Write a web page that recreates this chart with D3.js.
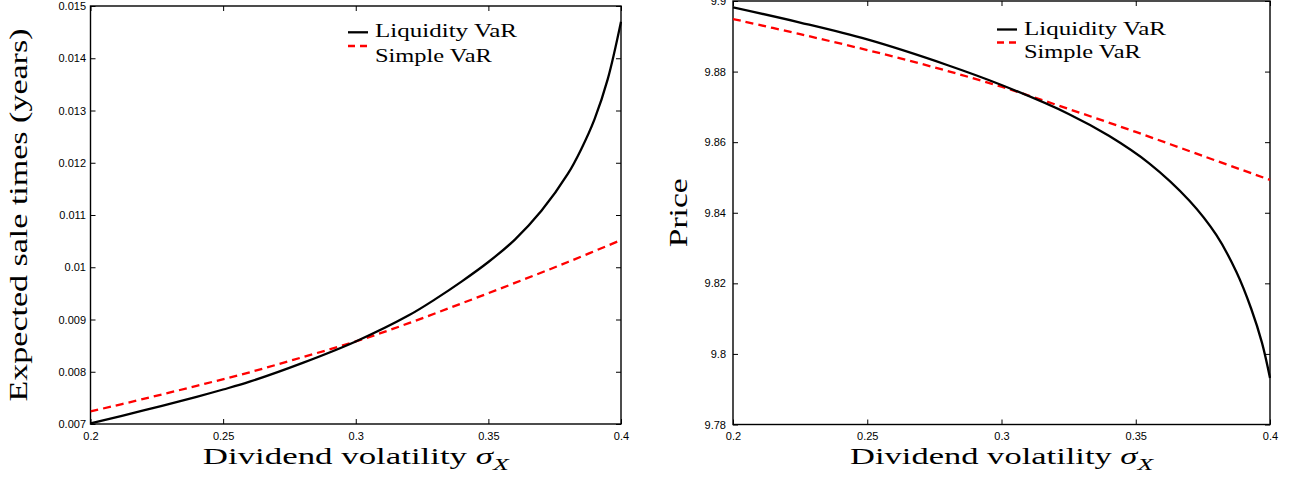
<!DOCTYPE html>
<html>
<head>
<meta charset="utf-8">
<script src="https://cdn.jsdelivr.net/npm/d3@7"></script>
<style>
  body { margin: 0; background: #fff; }
  svg { display: block; }
  .tick text { font-family: "Liberation Sans", Arial, sans-serif; font-size: 11px; fill: #000; }
  .tick line { stroke: #000; stroke-width: 1; }
  .serif { font-family: "Liberation Serif", "Times New Roman", serif; fill: #000; }
</style>
</head>
<body>
<svg id="chart"></svg>
<script>
// x values: dividend volatility
var xTicks = [0.2, 0.25, 0.3, 0.35, 0.4]
var xTickLabels = ["0.2", "0.25", "0.3", "0.35", "0.4"]

// left panel: expected sale times (years)
var timeTicks = [0.007, 0.008, 0.009, 0.010, 0.011, 0.012, 0.013, 0.014, 0.015]
var timeTickLabels = ["0.007", "0.008", "0.009", "0.01", "0.011", "0.012", "0.013", "0.014", "0.015"]

var sigmaTimeLiq = [0.20, 0.22, 0.24, 0.25, 0.26, 0.28, 0.30, 0.32, 0.33, 0.34, 0.35, 0.36, 0.37, 0.38, 0.385, 0.39, 0.395, 0.40]
var timeLiq = [0.00701, 0.00726, 0.00752, 0.00766, 0.00781, 0.00817, 0.00858, 0.00908, 0.00939, 0.00973, 0.01010, 0.01053, 0.01108, 0.01179, 0.01226, 0.01283, 0.01360, 0.01470]

var sigmaTimeSimple = [0.20, 0.22, 0.24, 0.26, 0.28, 0.30, 0.32, 0.34, 0.36, 0.38, 0.40]
var timeSimple = [0.00724, 0.00748, 0.00773, 0.00799, 0.00828, 0.00858, 0.00893, 0.00931, 0.00970, 0.01010, 0.01052]

// right panel: price
var priceTicks = [9.78, 9.80, 9.82, 9.84, 9.86, 9.88, 9.90]
var priceTickLabels = ["9.78", "9.8", "9.82", "9.84", "9.86", "9.88", "9.9"]

var sigmaPriceLiq = [0.20, 0.225, 0.25, 0.28, 0.30, 0.325, 0.34, 0.355, 0.37, 0.38, 0.3875, 0.393, 0.397, 0.40]
var priceLiq = [9.8982, 9.8939, 9.8891, 9.8818, 9.8762, 9.8680, 9.8618, 9.8540, 9.8434, 9.8337, 9.8232, 9.8128, 9.8032, 9.7932]

var sigmaPriceSimple = [0.20, 0.225, 0.25, 0.275, 0.30, 0.325, 0.35, 0.375, 0.40]
var priceSimple = [9.8949, 9.8906, 9.8861, 9.8812, 9.8757, 9.8694, 9.8629, 9.8561, 9.8493]

var legendNames = ["Liquidity VaR", "Simple VaR"]

var width = 1289
var height = 477

var svg = d3.select("#chart")
    .attr("width", width)
    .attr("height", height)

/* squeeze or stretch a text horizontally (in its own frame) to a given length */
function fitText(sel, len, pre) {
    var natural = sel.node().getComputedTextLength()
    sel.attr("transform", pre + " scale(" + (len / natural) + ",1)")
}

function panel(cfg) {
    var x = d3.scaleLinear().domain([0.2, 0.4]).range([cfg.left, cfg.right])
    var y = d3.scaleLinear().domain(cfg.yDomain).range([cfg.bottom, cfg.top])

    var g = svg.append("g")

    /* ticks, inward on all sides */
    g.append("g")
        .attr("transform", "translate(0," + cfg.bottom + ")")
        .call(d3.axisBottom(x).tickValues(xTicks).tickSize(-5).tickSizeOuter(0).tickPadding(8)
            .tickFormat((d, i) => xTickLabels[i]))
        .call(a => a.select(".domain").remove())

    g.append("g")
        .attr("transform", "translate(0," + cfg.top + ")")
        .call(d3.axisTop(x).tickValues(xTicks).tickSize(-5).tickSizeOuter(0).tickFormat(""))
        .call(a => a.select(".domain").remove())

    g.append("g")
        .attr("transform", "translate(" + cfg.left + ",0)")
        .call(d3.axisLeft(y).tickValues(cfg.yTicks).tickSize(-5).tickSizeOuter(0).tickPadding(cfg.pad)
            .tickFormat((d, i) => cfg.yLabels[i]))
        .call(a => a.select(".domain").remove())

    g.append("g")
        .attr("transform", "translate(" + cfg.right + ",0)")
        .call(d3.axisRight(y).tickValues(cfg.yTicks).tickSize(-5).tickSizeOuter(0).tickFormat(""))
        .call(a => a.select(".domain").remove())

    /* frame */
    g.append("rect")
        .attr("x", cfg.left).attr("y", cfg.top)
        .attr("width", cfg.right - cfg.left).attr("height", cfg.bottom - cfg.top)
        .attr("fill", "none").attr("stroke", "#000").attr("stroke-width", 1.4)

    /* curves */
    var clipId = "clip" + cfg.id
    svg.append("clipPath").attr("id", clipId)
        .append("rect")
        .attr("x", cfg.left).attr("y", cfg.top - 2)
        .attr("width", cfg.right - cfg.left + 1).attr("height", cfg.bottom - cfg.top + 3)

    var line = d3.line()
        .x(d => x(d[0]))
        .y(d => y(d[1]))
        .curve(d3.curveCatmullRom.alpha(0.5))

    g.append("path")
        .datum(d3.zip(cfg.xs2, cfg.ys2))
        .attr("clip-path", "url(#" + clipId + ")")
        .attr("d", line)
        .attr("fill", "none").attr("stroke", "#ff0000").attr("stroke-width", 2.3)
        .attr("stroke-dasharray", "8,5")

    g.append("path")
        .datum(d3.zip(cfg.xs1, cfg.ys1))
        .attr("clip-path", "url(#" + clipId + ")")
        .attr("d", line)
        .attr("fill", "none").attr("stroke", "#000").attr("stroke-width", 2.3)

    /* legend */
    var lx = cfg.right - 273
    var tx = cfg.right - 246
    g.append("line")
        .attr("x1", lx).attr("x2", lx + 20).attr("y1", cfg.leg[2]).attr("y2", cfg.leg[2])
        .attr("stroke", "#000").attr("stroke-width", 2.3)
    g.append("line")
        .attr("x1", lx).attr("x2", lx + 20).attr("y1", cfg.leg[3]).attr("y2", cfg.leg[3])
        .attr("stroke", "#ff0000").attr("stroke-width", 2.3).attr("stroke-dasharray", "7,5")

    var t1 = g.append("text").attr("class", "serif").attr("font-size", 18.5).text(legendNames[0])
    fitText(t1, 142, "translate(" + tx + "," + cfg.leg[0] + ")")
    var t2 = g.append("text").attr("class", "serif").attr("font-size", 18.5).text(legendNames[1])
    fitText(t2, 117, "translate(" + tx + "," + cfg.leg[1] + ")")

    /* x title */
    var xt = g.append("text").attr("class", "serif")
        .attr("font-size", 23)
        .attr("text-anchor", "middle")
    xt.append("tspan").text("Dividend volatility ")
    xt.append("tspan").attr("font-style", "italic").text("σ")
    xt.append("tspan").attr("font-style", "italic").attr("font-size", 17).attr("dy", 6).text("X")
    fitText(xt, cfg.xTitleLen, "translate(" + ((cfg.left + cfg.right) / 2) + ",464)")

    /* y title */
    var yt = g.append("text").attr("class", "serif")
        .attr("font-size", 26)
        .attr("text-anchor", "middle")
        .text(cfg.yTitle)
    fitText(yt, cfg.yTitleLen, "translate(" + cfg.yTitleX + "," + ((cfg.top + cfg.bottom) / 2) + ") rotate(-90)")
}

panel({
    id: "L", left: 90.5, right: 621, top: 6, bottom: 424,
    yDomain: [0.007, 0.015], yTicks: timeTicks, yLabels: timeTickLabels, pad: 4.5,
    xs1: sigmaTimeLiq, ys1: timeLiq, xs2: sigmaTimeSimple, ys2: timeSimple,
    leg: [37.3, 62.3, 32.3, 46],
    xTitleLen: 306,
    yTitle: "Expected sale times (years)", yTitleX: 27, yTitleLen: 373
})

panel({
    id: "R", left: 733, right: 1270, top: 1, bottom: 424.5,
    yDomain: [9.78, 9.90], yTicks: priceTicks, yLabels: priceTickLabels, pad: 7,
    xs1: sigmaPriceLiq, ys1: priceLiq, xs2: sigmaPriceSimple, ys2: priceSimple,
    leg: [35, 58.3, 29.5, 42.5],
    xTitleLen: 303,
    yTitle: "Price", yTitleX: 687, yTitleLen: 69
})
</script>
</body>
</html>
